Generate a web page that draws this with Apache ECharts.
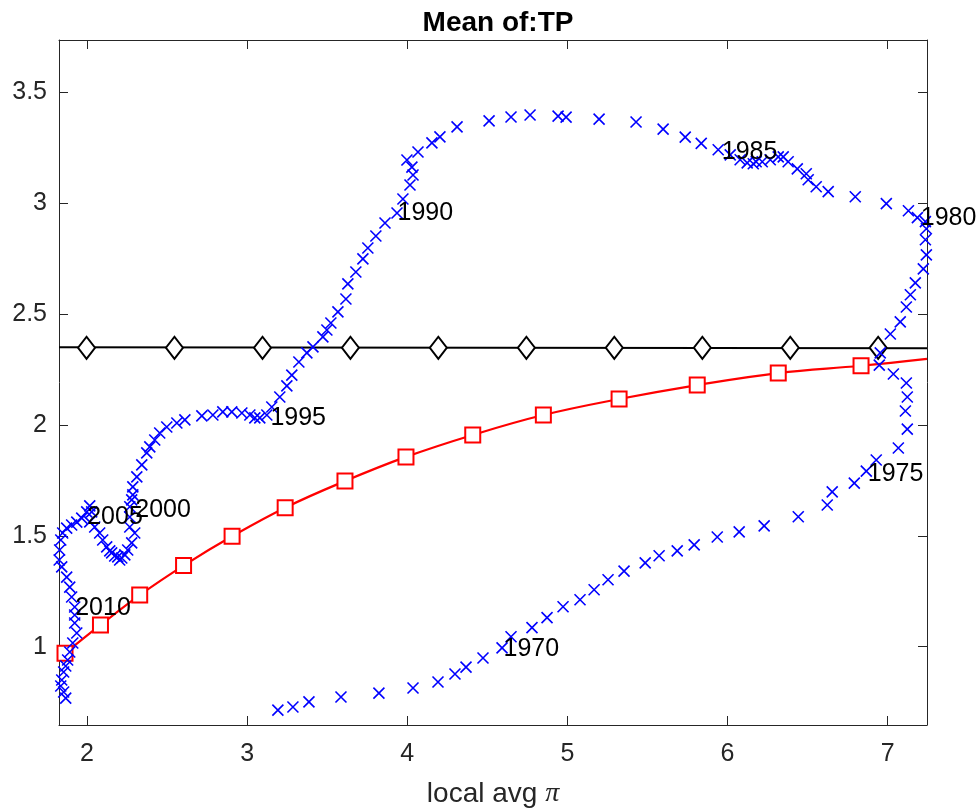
<!DOCTYPE html>
<html>
<head>
<meta charset="utf-8">
<script src="https://cdn.jsdelivr.net/npm/echarts@6/dist/echarts.min.js"></script>
<style>html,body{margin:0;padding:0;background:#fff}#c{width:979px;height:812px}</style>
</head>
<body>
<div id="c"></div>
<script>
// ---- data ----
const xMin = 1.825, xMax = 7.246, yMin = 0.647, yMax = 3.736;
const xTicks = [2, 3, 4, 5, 6, 7];
const yTicks = [1, 1.5, 2, 2.5, 3, 3.5];

// blue "x" path (quarterly observations, time order)
const blueX = [3.192,3.286,3.386,3.586,3.823,4.036,4.192,4.298,4.367,4.473,4.592,4.648,4.779,4.873,4.973,5.079,5.167,5.254,5.354,5.486,5.573,5.686,5.792,5.936,6.073,6.229,6.442,6.623,6.654,6.792,6.867,6.929,7.067,7.123,7.111,7.123,7.117,7.036,6.948,6.954,7.017,7.079,7.117,7.142,7.173,7.223,7.242,7.236,7.242,7.236,7.186,7.130,6.992,6.798,6.629,6.554,6.504,6.492,6.436,6.379,6.348,6.317,6.267,6.217,6.179,6.161,6.123,6.079,6.017,5.942,5.836,5.736,5.598,5.429,5.198,4.992,4.942,4.767,4.648,4.511,4.311,4.204,4.154,4.067,3.998,4.029,4.036,4.017,3.973,3.936,3.861,3.804,3.754,3.723,3.679,3.629,3.617,3.567,3.523,3.498,3.473,3.411,3.373,3.323,3.279,3.248,3.204,3.154,3.123,3.079,3.048,3.017,2.967,2.904,2.848,2.786,2.717,2.611,2.561,2.498,2.454,2.423,2.392,2.373,2.342,2.311,2.286,2.286,2.279,2.267,2.267,2.267,2.298,2.279,2.254,2.236,2.217,2.204,2.192,2.173,2.154,2.142,2.123,2.098,2.079,2.048,2.017,2.029,2.017,1.998,1.967,1.936,1.904,1.873,1.848,1.836,1.829,1.826,1.842,1.873,1.892,1.904,1.923,1.923,1.923,1.936,1.911,1.892,1.879,1.867,1.854,1.842,1.836,1.854,1.867];
const blueY = [0.714,0.728,0.751,0.773,0.791,0.814,0.841,0.877,0.908,0.949,0.995,1.045,1.086,1.131,1.180,1.212,1.257,1.302,1.341,1.378,1.410,1.432,1.459,1.495,1.518,1.545,1.586,1.639,1.698,1.738,1.792,1.842,1.896,1.981,2.063,2.126,2.189,2.230,2.270,2.325,2.410,2.465,2.532,2.587,2.641,2.704,2.767,2.835,2.885,2.917,2.935,2.966,2.998,3.029,3.052,3.074,3.106,3.133,3.155,3.187,3.209,3.209,3.196,3.187,3.187,3.178,3.182,3.196,3.218,3.241,3.270,3.298,3.334,3.366,3.379,3.388,3.393,3.398,3.389,3.371,3.344,3.299,3.272,3.231,3.195,3.163,3.127,3.082,3.019,2.956,2.911,2.852,2.798,2.749,2.690,2.636,2.568,2.510,2.460,2.428,2.397,2.352,2.325,2.284,2.225,2.176,2.126,2.081,2.045,2.032,2.032,2.045,2.054,2.059,2.059,2.045,2.041,2.023,2.009,1.991,1.964,1.932,1.901,1.874,1.820,1.766,1.721,1.685,1.662,1.631,1.585,1.540,1.513,1.468,1.436,1.414,1.400,1.391,1.405,1.409,1.423,1.432,1.450,1.481,1.513,1.540,1.563,1.608,1.635,1.608,1.580,1.562,1.549,1.535,1.513,1.481,1.436,1.391,1.360,1.314,1.269,1.224,1.179,1.143,1.107,1.062,1.017,0.976,0.940,0.913,0.886,0.850,0.823,0.796,0.768];

// year annotations
const yearText = ['1970','1975','1980','1985','1990','1995','2000','2005','2010'];
const yearX = [4.598, 6.873, 7.204, 5.961, 3.936, 3.142, 2.298, 1.998, 1.923];
const yearY = [0.989, 1.779, 2.933, 3.231, 2.956, 2.032, 1.617, 1.585, 1.174];

// red curve with square markers
const redX = [1.8625, 2.084, 2.329, 2.603, 2.906, 3.2375, 3.611, 3.992, 4.409, 4.85, 5.323, 5.811, 6.317, 6.834];
const redY = [0.970, 1.098, 1.233, 1.366, 1.498, 1.627, 1.747, 1.856, 1.955, 2.045, 2.117, 2.180, 2.234, 2.267];
const redEnd = [7.246, 2.298];

// black horizontal line with diamond markers
const blackLineX = [1.825, 7.246];
const blackLineY = [2.3505, 2.346];
const diamondX = [1.997, 2.546, 3.096, 3.645, 4.194, 4.744, 5.293, 5.843, 6.392, 6.941];
const diamondY = 2.348;

// ---- chart ----
const FONT = '"Liberation Sans", Arial, Helvetica, sans-serif';
const AX = '#262626';
const chart = echarts.init(document.getElementById('c'), null, {renderer: 'canvas'});

function xAxisDef(pos, labels) {
  return {
    type: 'value', min: xMin, max: xMax, position: pos,
    axisLine: {show: true, onZero: false, lineStyle: {color: AX, width: 1}},
    axisTick: {show: true, inside: true, length: 9, customValues: xTicks, lineStyle: {color: AX, width: 1}},
    axisLabel: {show: labels, customValues: xTicks, fontFamily: FONT, fontSize: 25, color: AX, margin: 17},
    splitLine: {show: false},
    name: labels ? '{a|local avg }{b|π}' : '',
    nameLocation: 'middle', nameGap: 55,
    nameTextStyle: {
      color: AX,
      rich: {
        a: {fontFamily: FONT, fontSize: 28, color: AX},
        b: {fontFamily: '"Liberation Serif", "DejaVu Serif", serif', fontStyle: 'italic', fontSize: 28, color: AX}
      }
    }
  };
}
function yAxisDef(pos, labels) {
  return {
    type: 'value', min: yMin, max: yMax, position: pos,
    axisLine: {show: true, onZero: false, lineStyle: {color: AX, width: 1}},
    axisTick: {show: true, inside: true, length: 9, customValues: yTicks, lineStyle: {color: AX, width: 1}},
    axisLabel: {show: labels, customValues: yTicks, fontFamily: FONT, fontSize: 25, color: AX, margin: 12},
    splitLine: {show: false}
  };
}

const blueData = blueX.map((x, i) => [x, blueY[i]]);
const redLine = redX.map((x, i) => [x, redY[i]]).concat([redEnd]);
const redSquares = redX.map((x, i) => [x, redY[i]]);
const blackLine = blackLineX.map((x, i) => [x, blackLineY[i]]);
const diamonds = diamondX.map(x => [x, diamondY]);
const yearData = yearText.map((t, i) => ({name: t, value: [yearX[i], yearY[i]]}));

chart.setOption({
  animation: false,
  backgroundColor: '#ffffff',
  title: {
    text: 'Mean of:TP', left: 493, top: 4, textAlign: 'center',
    textStyle: {fontFamily: FONT, fontSize: 28, fontWeight: 'bold', color: '#000'}
  },
  grid: {left: 59, right: 52, top: 40, bottom: 87, containLabel: false, outerBoundsMode: 'none'},
  xAxis: [xAxisDef('bottom', true), xAxisDef('top', false)],
  yAxis: [yAxisDef('left', true), yAxisDef('right', false)],
  series: [
    {type: 'line', data: blackLine, symbol: 'none', lineStyle: {color: '#000', width: 2.2}, z: 2},
    {type: 'scatter', data: diamonds, symbol: 'emptyDiamond', symbolSize: [17, 22],
     itemStyle: {color: '#000', borderColor: '#000', borderWidth: 2.2, opacity: 1}, z: 3},
    {type: 'line', data: redLine, smooth: 0.4, symbol: 'none', lineStyle: {color: '#ff0000', width: 2.2}, z: 2},
    {type: 'scatter', data: redSquares, symbol: 'emptyRect', symbolSize: 15,
     itemStyle: {color: '#ff0000', borderColor: '#ff0000', borderWidth: 2.2, opacity: 1}, z: 3},
    {type: 'scatter', data: blueData, symbol: 'path://M0,0L10,10M10,0L0,10', symbolSize: 11,
     itemStyle: {color: 'none', borderColor: '#0000ff', borderWidth: 1.6, opacity: 1}, z: 4},
    {type: 'scatter', data: yearData, symbolSize: 1, itemStyle: {color: 'rgba(0,0,0,0)'}, z: 5, silent: true,
     label: {show: true, position: 'right', distance: 0, formatter: '{b}', fontFamily: FONT, fontSize: 25, color: '#000', opacity: 1}}
  ]
});
</script>
</body>
</html>
